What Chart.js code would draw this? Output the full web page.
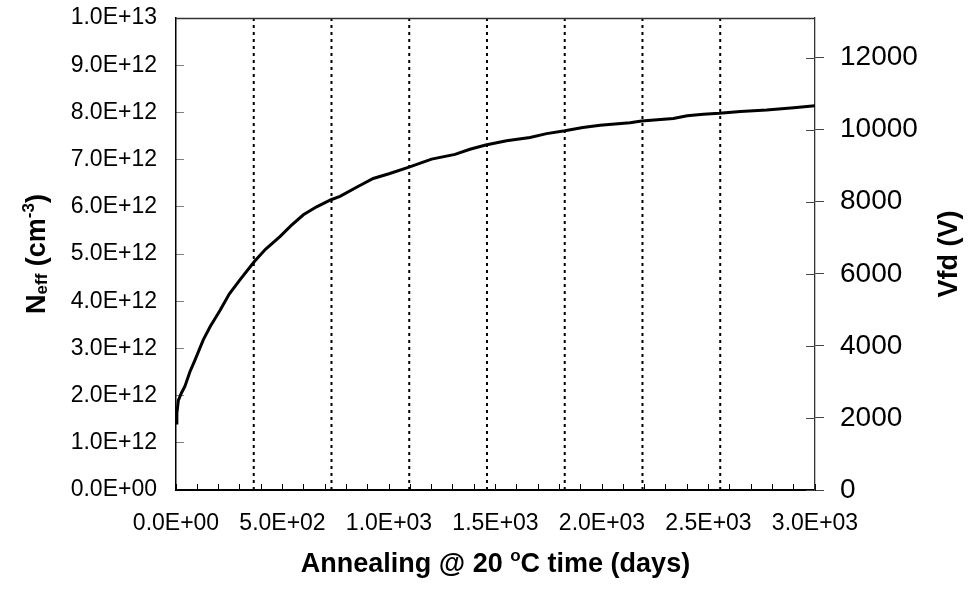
<!DOCTYPE html>
<html>
<head>
<meta charset="utf-8">
<script src="https://cdn.jsdelivr.net/npm/chart.js@4.4.1/dist/chart.umd.min.js"></script>
<style>
  html, body { margin: 0; padding: 0; background: #fff; }
  canvas { display: block; }
</style>
</head>
<body>
<canvas id="annealChart" width="979" height="598"></canvas>
<script>
// annealing curve (days, Neff in 1e12 cm^-3)
const annealDays = [0, 4, 11, 25, 42, 65, 89, 128, 160, 207, 250, 300, 368, 420, 488, 540, 598, 660, 728, 770,
  850, 926, 1000, 1094, 1200, 1310, 1380, 1454, 1552, 1662, 1740, 1826, 1910, 1991, 2131, 2186, 2335, 2400,
  2476, 2551, 2650, 2773, 2900, 3000];
const neffE12 = [1.42, 1.62, 1.90, 2.05, 2.20, 2.50, 2.75, 3.18, 3.46, 3.81, 4.15, 4.45, 4.84, 5.10, 5.37, 5.60,
  5.83, 6.00, 6.15, 6.22, 6.42, 6.60, 6.70, 6.84, 7.01, 7.11, 7.22, 7.31, 7.40, 7.47, 7.55, 7.61, 7.68, 7.73,
  7.78, 7.82, 7.87, 7.93, 7.96, 7.98, 8.02, 8.05, 8.10, 8.14];

// dotted markers, one per year
const yearMarks = [365, 730, 1095, 1460, 1825, 2190, 2555];

// axis ranges
const xMax = 3000, xStep = 100, xLabelStep = 500;
const neffMax = 1e13, neffStep = 1e12;
const vfdMax = 13100;
const vfdTicks = [0, 2000, 4000, 6000, 8000, 10000, 12000];

const FONT = "'Liberation Sans', Arial, sans-serif";

// 1.0E+13 style labels
function sci(v) {
  const [m, e] = v.toExponential(1).split("e");
  const n = parseInt(e, 10);
  return m + "E" + (n < 0 ? "-" : "+") + String(Math.abs(n)).padStart(2, "0");
}

// titles with sub/superscripts
const xTitle = [
  { t: "Annealing @ 20 ", s: 27 },
  { t: "o", s: 17, dy: -11 },
  { t: "C time (days)", s: 27 }
];
const leftTitle = [
  { t: "N", s: 27 },
  { t: "eff", s: 17, dy: 2 },
  { t: " (cm", s: 27 },
  { t: "-3", s: 17, dy: -11 },
  { t: ")", s: 27 }
];
const rightTitle = [{ t: "Vfd (V)", s: 27 }];

function drawRich(ctx, parts, cx, by, rot) {
  ctx.save();
  ctx.translate(cx, by);
  ctx.rotate(rot);
  ctx.fillStyle = "#000";
  ctx.textBaseline = "alphabetic";
  ctx.textAlign = "left";
  let total = 0;
  parts.forEach(p => {
    ctx.font = `bold ${p.s}px ${FONT}`;
    p.w = ctx.measureText(p.t).width;
    total += p.w;
  });
  let x = -total / 2;
  parts.forEach(p => {
    ctx.font = `bold ${p.s}px ${FONT}`;
    ctx.fillText(p.t, x, p.dy || 0);
    x += p.w;
  });
  ctx.restore();
}

// keep the plot box where the reference has it: no extra room for half-labels
function noPad(s) {
  s.paddingTop = 0;
  s.paddingBottom = 0;
  s.paddingLeft = 0;
  s.paddingRight = 0;
}

const framePlugin = {
  id: "frame",
  afterDraw(chart) {
    const { ctx, chartArea: { left, top, right, bottom }, scales } = chart;
    ctx.save();
    // top edge of the plot box
    ctx.strokeStyle = "#333";
    ctx.lineWidth = 1.3;
    ctx.beginPath();
    ctx.moveTo(left, top + 0.5);
    ctx.lineTo(right, top + 0.5);
    ctx.stroke();
    // right axis ticks cross the axis: draw the inner half
    const y1 = scales.y1;
    ctx.strokeStyle = "#444";
    ctx.lineWidth = 1;
    y1.ticks.forEach(t => {
      const py = Math.round(y1.getPixelForValue(t.value)) + 0.5;
      ctx.beginPath();
      ctx.moveTo(right - 9, py);
      ctx.lineTo(right, py);
      ctx.stroke();
    });
    ctx.restore();

    drawRich(ctx, xTitle, (left + right) / 2, 572, 0);
    drawRich(ctx, leftTitle, 45, (top + bottom) / 2, -Math.PI / 2);
    drawRich(ctx, rightTitle, 957, (top + bottom) / 2, -Math.PI / 2);
  }
};

const curve = annealDays.map((d, i) => ({ x: d, y: neffE12[i] * 1e12 }));

const markerSets = yearMarks.map(d => ({
  data: [{ x: d, y: 0 }, { x: d, y: neffMax }],
  borderColor: "#000",
  borderWidth: 2,
  borderDash: [3, 4],
  pointRadius: 0,
  yAxisID: "y",
  order: 1
}));

new Chart(document.getElementById("annealChart").getContext("2d"), {
  type: "line",
  plugins: [framePlugin],
  data: {
    datasets: [
      ...markerSets,
      {
        data: curve,
        borderColor: "#000",
        borderWidth: 3,
        pointRadius: 0,
        tension: 0,
        yAxisID: "y",
        order: 0
      }
    ]
  },
  options: {
    responsive: false,
    animation: false,
    events: [],
    layout: { padding: { top: 18, left: 0, right: 0, bottom: 0 } },
    plugins: { legend: { display: false }, tooltip: { enabled: false } },
    scales: {
      x: {
        type: "linear",
        min: 0, max: xMax,
        afterFit: s => { s.height = 108; noPad(s); },
        border: { color: "#000", width: 2 },
        grid: { drawOnChartArea: false, drawTicks: true, tickLength: -6, color: "#000" },
        ticks: {
          stepSize: xStep,
          autoSkip: false,
          maxRotation: 0,
          padding: 26,
          color: "#000",
          font: { family: FONT, size: 23 },
          callback: v => (v % xLabelStep === 0 ? sci(v) : "")
        }
      },
      y: {
        position: "left",
        min: 0, max: neffMax,
        afterFit: s => { s.width = 176; noPad(s); },
        border: { color: "#000", width: 1.5 },
        grid: { drawOnChartArea: false, drawTicks: true, tickLength: -8, color: "#808080" },
        ticks: {
          stepSize: neffStep,
          padding: 27,
          color: "#000",
          font: { family: FONT, size: 23 },
          callback: v => sci(v)
        }
      },
      y1: {
        position: "right",
        min: 0, max: vfdMax,
        afterBuildTicks: s => { s.ticks = vfdTicks.map(v => ({ value: v })); },
        afterFit: s => { s.width = 164; noPad(s); },
        border: { color: "#333", width: 1.3 },
        grid: { drawOnChartArea: false, drawTicks: true, tickLength: 9, color: "#444" },
        ticks: {
          autoSkip: false,
          padding: 16,
          color: "#000",
          font: { family: FONT, size: 28 },
          callback: v => String(v)
        }
      }
    }
  }
});
</script>
</body>
</html>
